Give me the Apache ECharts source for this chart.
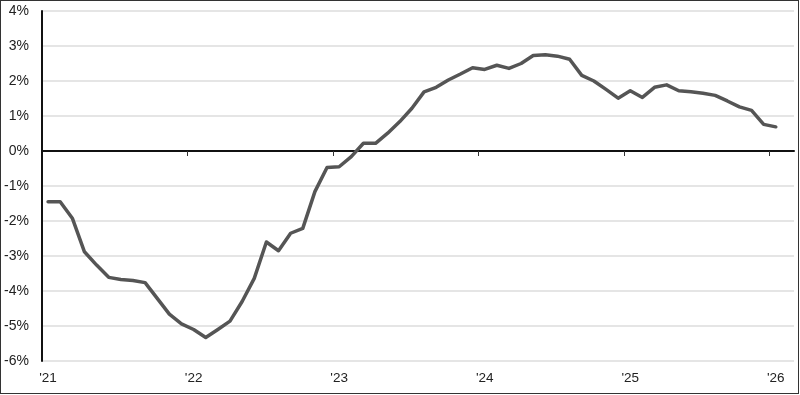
<!DOCTYPE html>
<html>
<head>
<meta charset="utf-8">
<script src="https://cdn.jsdelivr.net/npm/echarts@6/dist/echarts.min.js"></script>
<style>
  html, body { margin: 0; padding: 0; background: #fff; }
  #wrap { position: relative; width: 800px; height: 395px; }
  #chart { width: 800px; height: 395px; }
  #frame { position: absolute; left: 0; top: 0; width: 799px; height: 394px; box-sizing: border-box; border: 1px solid #333; pointer-events: none; }
</style>
</head>
<body>
<div id="wrap"><div id="chart"></div><div id="frame"></div></div>
<script>
// Monthly values, Jan 2021 .. Jan 2026 (percent)
const values = [
  -1.45, -1.45, -1.92, -2.88, -3.26, -3.61, -3.67, -3.70, -3.76, -4.21,
  -4.66, -4.94, -5.10, -5.33, -5.10, -4.86, -4.30, -3.64, -2.60, -2.85,
  -2.35, -2.21, -1.16, -0.47, -0.45, -0.16, 0.22, 0.22, 0.51, 0.84,
  1.22, 1.69, 1.82, 2.03, 2.20, 2.38, 2.33, 2.45, 2.36, 2.50,
  2.73, 2.75, 2.71, 2.62, 2.16, 2.00, 1.76, 1.51, 1.72, 1.53,
  1.82, 1.89, 1.72, 1.69, 1.65, 1.59, 1.43, 1.26, 1.16, 0.76,
  0.69
];
const yearLabels = ["'21", "'22", "'23", "'24", "'25", "'26"];
const monthsPerYear = 12;
const totalSlots = 62; // Jan 2021 .. Feb 2026

const labelValues = yearLabels.map((_, i) => i * monthsPerYear);
const boundaryValues = yearLabels.slice(1).map((_, i) => (i + 1) * monthsPerYear - 0.5);

const chart = echarts.init(document.getElementById('chart'), null, { renderer: 'canvas' });
const font = 'Liberation Sans, Arial, sans-serif';

chart.setOption({
  animation: false,
  backgroundColor: '#ffffff',
  grid: { left: 42, right: 6, top: 11, bottom: 34, containLabel: false, outerBoundsMode: 'none' },
  xAxis: [
    {
      type: 'value',
      min: -0.5,
      max: totalSlots - 0.5,
      position: 'bottom',
      axisLine: { show: false, onZero: false },
      axisTick: { show: false },
      splitLine: { show: false },
      axisLabel: {
        customValues: labelValues,
        formatter: v => yearLabels[Math.round(v / monthsPerYear)] || '',
        color: '#222',
        fontSize: 13.5,
        fontFamily: font,
        margin: 10
      }
    },
    {
      type: 'value',
      min: -0.5,
      max: totalSlots - 0.5,
      position: 'top',
      axisLine: { show: true, onZero: true, lineStyle: { color: '#111', width: 2 } },
      axisTick: { show: true, inside: true, length: 5, customValues: boundaryValues, lineStyle: { color: '#333', width: 1 } },
      axisLabel: { show: false },
      splitLine: { show: false }
    }
  ],
  yAxis: {
    type: 'value',
    min: -6,
    max: 4,
    interval: 1,
    axisLine: { show: true, onZero: false, lineStyle: { color: '#111', width: 2 } },
    axisTick: { show: false },
    splitLine: { show: true, lineStyle: { color: '#dcdcdc', width: 1.5 } },
    axisLabel: {
      formatter: v => v + '%',
      color: '#222',
      fontSize: 14,
      fontFamily: font,
      margin: 13
    }
  },
  series: [{
    type: 'line',
    xAxisIndex: 0,
    data: values.map((v, i) => [i, v]),
    showSymbol: false,
    symbol: 'none',
    lineStyle: { color: '#555555', width: 3.5, join: 'round', cap: 'round' },
    z: 3
  }]
});
</script>
</body>
</html>
